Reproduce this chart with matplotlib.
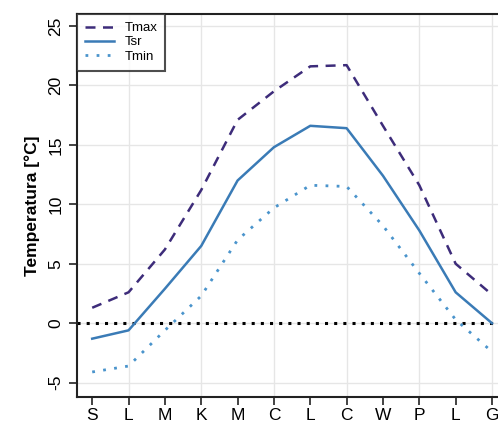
import numpy as np
import matplotlib.pyplot as plt

plt.rcParams['font.family'] = ['Liberation Sans', 'DejaVu Sans']

months = ['S', 'L', 'M', 'K', 'M', 'C', 'L', 'C', 'W', 'P', 'L', 'G']
tmax = [1.3, 2.6, 6.2, 11.2, 17.1, 19.5, 21.6, 21.7, 16.6, 11.6, 5.0, 2.4]
tsr = [-1.3, -0.6, 2.9, 6.5, 12.0, 14.8, 16.6, 16.4, 12.4, 7.8, 2.6, 0.0]
tmin = [-4.1, -3.6, -0.6, 2.3, 7.0, 9.7, 11.6, 11.5, 8.2, 4.2, 0.3, -2.4]

c_max = '#3d2c7a'
c_sr = '#3a7bb6'
c_min = '#4a94cc'

fig = plt.figure(figsize=(4.98, 4.25), dpi=100)
ax = fig.add_axes([0.155, 0.066, 0.845, 0.901])

x = np.arange(1, len(months) + 1)

ax.axhline(0, color='black', linestyle=(0, (1, 2)), linewidth=2.2, zorder=1)
ax.plot(x, tmax, color=c_max, linestyle=(0, (4, 3)), linewidth=1.8, label='Tmax', zorder=3)
ax.plot(x, tsr, color=c_sr, linestyle='-', linewidth=1.8, label='Tsr', zorder=3)
ax.plot(x, tmin, color=c_min, linestyle=(0, (1, 3)), linewidth=2.0, label='Tmin', zorder=3)

ax.set_xlim(0.587, 12.165)
ax.set_ylim(-6.2, 26.0)
ax.set_xticks(x)
ax.set_xticklabels(months, fontsize=12.5)
ax.set_yticks([-5, 0, 5, 10, 15, 20, 25])
ax.set_yticklabels(['-5', '0', '5', '10', '15', '20', '25'], fontsize=12.5, rotation=90, va='center')
ax.tick_params(axis='both', length=6, width=1.2, color='#222222')
ax.tick_params(axis='x', pad=2)
ax.tick_params(axis='y', pad=4)

# light grid: every y tick, every second month
for yv in [-5, 0, 5, 10, 15, 20, 25]:
    ax.axhline(yv, color='#e6e6e6', linewidth=1.0, zorder=0)
for xv in x[1::2]:
    ax.axvline(xv, color='#e6e6e6', linewidth=1.0, zorder=0)

for s in ['left', 'bottom', 'top']:
    ax.spines[s].set_linewidth(1.5)
    ax.spines[s].set_color('#222222')
ax.spines['right'].set_visible(False)

ax.set_ylabel('Temperatura [°C]', fontsize=12.5, fontweight='bold', labelpad=6)

leg = ax.legend(loc='upper left', fontsize=9.5, frameon=True, fancybox=False,
                borderaxespad=0, handlelength=2.2, labelspacing=0.15,
                borderpad=0.6, handletextpad=0.8)
leg.get_frame().set_edgecolor('#222222')
leg.get_frame().set_linewidth(1.5)

fig.savefig('out.png', dpi=100)
